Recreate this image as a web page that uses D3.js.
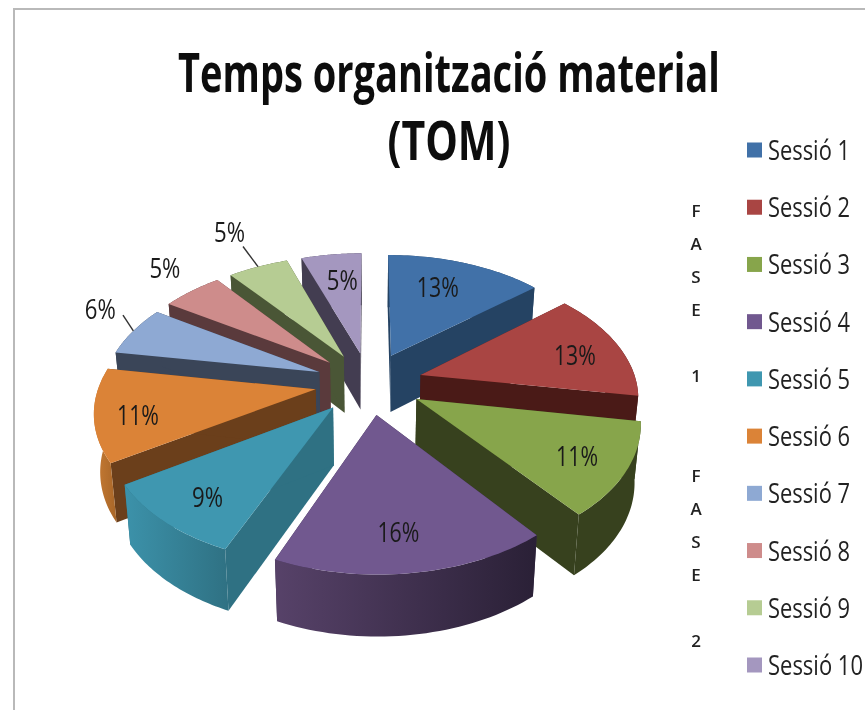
<!DOCTYPE html>
<html><head><meta charset="utf-8">
<script src="https://cdnjs.cloudflare.com/ajax/libs/d3/7.8.5/d3.min.js"></script>
<style>html,body{margin:0;background:#fff}svg{display:block;filter:blur(.7px)}</style>
</head><body><svg id="c" width="865" height="710"></svg>
<script>
const categories=["Sessió 1","Sessió 2","Sessió 3","Sessió 4","Sessió 5","Sessió 6","Sessió 7","Sessió 8","Sessió 9","Sessió 10"];
const values=[13,13,11,16,9,11,6,5,5,5];
const topColors=["#4171a8","#a94543","#87a54b","#71588f","#3f97b0","#db8337","#8ea9d3","#ce8c8b","#b6cc93","#a497bf"];
const sideColors=["#254363","#4a1a17","#37411e","#3a2c4c","#2f7183","#6b3f1b","#3a4558","#5a3a3c","#4a5636","#433d51"];
const outerLeft=["#254363","#4a1a17","#37411e","#574269","#3c92aa","#c87c34","#3a4558","#5a3a3c","#4a5636","#433d51"];
const outerRight=["#254363","#4a1a17","#37411e","#2a2036","#2f7183","#a86628","#3a4558","#5a3a3c","#4a5636","#433d51"];
const labelRadius=[.95,1.015,1.035,1.02,1.036,1.058,1.52,1.543,1.697,.963];
const labelShift=[-2.5,2,.8,1.2,-1,-2,4.6,2.3,.8,1.1];
const leaderRadius=[0,0,0,0,0,0,1.38,0,1.5,0];
const phaseLetters=["F","A","S","E","","1","","","F","A","S","E","","2"];
const titleLines=["Temps organització material","(TOM)"];

const face="'Open Sans'";
const svg=d3.select("#c");
const cx=369,cy=383,rx=216,ry=124,persp=.154,explode=.25,depth=57,depthGrow=4,shrink=.977;
const sx=d3.scaleLinear().domain([-1,1]).range([cx-rx,cx+rx]);
const sy=d3.scaleLinear().domain([-1,1]).range([cy-ry,cy+ry]);
const top3=(X,Y)=>{const k=1-persp*Y;return [sx(X/k),sy(Y/k)];};
const bot3=(X,Y)=>{const p=top3(X,Y);return [cx+(p[0]-cx)*shrink,p[1]+depth+depthGrow*Y];};
const polar=(r,a)=>[r*Math.sin(a),-r*Math.cos(a)];
const line=d3.line();
const pie=d3.pie().sort(null).value(d=>d)(values);
const defs=svg.append("defs");

// text squeezed horizontally to a target width, as in the stretched original
function squeezed(t,x,y,width,size,anchor,weight,fill){
  const e=svg.append("text").attr("font-family",face).attr("font-size",size)
    .attr("font-weight",weight).attr("fill",fill).attr("text-anchor",anchor).text(t);
  const k=width/e.node().getComputedTextLength();
  e.attr("transform",`translate(${x},${y}) scale(${k},1)`);
}

// frame
svg.append("rect").attr("x",14).attr("y",9).attr("width",1000).attr("height",1000)
  .attr("fill","#fff").attr("stroke","#b9b9b9").attr("stroke-width",2);

const slices=pie.map((d,i)=>{
  const mid=(d.startAngle+d.endAngle)/2,off=polar(explode,mid);
  const n=d3.range(0,41).map(j=>d.startAngle+(d.endAngle-d.startAngle)*j/40);
  const arc=n.map(a=>{const q=polar(1,a);return [q[0]+off[0],q[1]+off[1]];});
  return {d,i,mid,off,arc,key:-Math.cos(mid)};
}).sort((a,b)=>a.key-b.key);

const g=svg.append("g");
slices.forEach(s=>{
  const f=g.append("g"),o=s.off,a=s.arc,first=a[0],last=a[a.length-1];
  const wall=(P,Q)=>line([top3(...P),top3(...Q),bot3(...Q),bot3(...P)])+"Z";
  f.append("path").attr("d",wall(o,first)).attr("fill",sideColors[s.i]);
  f.append("path").attr("d",wall(o,last)).attr("fill",sideColors[s.i]);
  const id="w"+s.i,lg=defs.append("linearGradient").attr("id",id);
  lg.append("stop").attr("offset",0).attr("stop-color",outerLeft[s.i]);
  lg.append("stop").attr("offset",1).attr("stop-color",outerRight[s.i]);
  const ring=a.map(p=>top3(...p)).concat(a.slice().reverse().map(p=>bot3(...p)));
  f.append("path").attr("d",line(ring)+"Z").attr("fill",`url(#${id})`);
  const top=[top3(...o)].concat(a.map(p=>top3(...p)));
  f.append("path").attr("d",line(top)+"Z").attr("fill",topColors[s.i]);
});

// labels and leaders
pie.forEach((d,i)=>{
  const mid=(d.startAngle+d.endAngle)/2,ang=mid+labelShift[i]*Math.PI/180;
  if(leaderRadius[i]){
    const a=top3(...polar(leaderRadius[i],ang)),b=top3(...polar(1+explode,mid));
    svg.append("line").attr("x1",a[0]).attr("y1",a[1]).attr("x2",b[0]).attr("y2",b[1])
      .attr("stroke","#333").attr("stroke-width",1.4);
  }
  const p=top3(...polar(labelRadius[i],ang));
  squeezed(d.value+"%",p[0],p[1]+10,d.value>=10?42:31,27,"middle",400,"#1a1a1a");
});

// title
const tY=[92,160],tW=[542,123];
titleLines.forEach((t,i)=>squeezed(t,449,tY[i],tW[i],54,"middle",700,"#0d0d0d"));

// legend
const ly=d3.scalePoint().domain(categories).range([150,665]);
categories.forEach((c,i)=>{
  svg.append("rect").attr("x",747).attr("y",ly(c)-7.5).attr("width",15).attr("height",15).attr("fill",topColors[i]);
  squeezed(c,768,ly(c)+10,i===9?95:82,27,"start",400,"#222");
});

// phase letters
const py=d3.scaleLinear().domain([0,13]).range([210,640]);
phaseLetters.forEach((t,i)=>{ if(t) svg.append("text").attr("x",696).attr("y",py(i)+7).attr("text-anchor","middle")
  .attr("font-family",face).attr("font-size",17).attr("font-weight",600).attr("fill","#222").text(t);});
</script></body></html>
